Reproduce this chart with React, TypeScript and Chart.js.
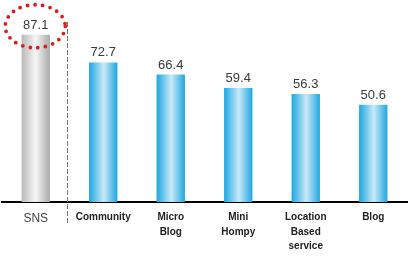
import React, { useEffect, useRef } from "react";
import { Chart, registerables } from "chart.js";

Chart.register(...registerables);

const categories: (string | string[])[] = [
  "SNS",
  "Community",
  ["Micro", "Blog"],
  ["Mini", "Hompy"],
  ["Location", "Based", "service"],
  "Blog",
];
const values: number[] = [87.1, 72.7, 66.4, 59.4, 56.3, 50.6];
const valueLabels: string[] = ["87.1", "72.7", "66.4", "59.4", "56.3", "50.6"];

const BAR_PCT = 0.42;

function barGradient(ctx: any) {
  const chart = ctx.chart;
  const xs = chart.scales && chart.scales.x;
  const i = ctx.dataIndex;
  const grey = i === 0;
  if (!xs || xs.width === undefined || isNaN(xs.getPixelForValue(i))) {
    return grey ? "#d0d0d0" : "#3db3e6";
  }
  const c = xs.getPixelForValue(i);
  const half = (xs.width / categories.length) * BAR_PCT / 2;
  const g = chart.ctx.createLinearGradient(c - half, 0, c + half, 0);
  if (grey) {
    g.addColorStop(0, "#b9b9b9");
    g.addColorStop(0.5, "#f6f6f6");
    g.addColorStop(1, "#a9a9a9");
  } else {
    g.addColorStop(0, "#1ba6e1");
    g.addColorStop(0.52, "#cbe9f8");
    g.addColorStop(1, "#1ea6e0");
  }
  return g;
}

const decorPlugin = {
  id: "decor",
  afterDatasetsDraw(chart: any) {
    const { ctx, chartArea } = chart;
    const xs = chart.scales.x;
    const meta = chart.getDatasetMeta(0);
    ctx.save();
    // value labels
    ctx.fillStyle = "#3a3a3a";
    ctx.font = "13px 'Liberation Sans', Arial, sans-serif";
    ctx.textAlign = "center";
    ctx.textBaseline = "alphabetic";
    meta.data.forEach((bar: any, i: number) => {
      ctx.fillText(valueLabels[i], bar.x, bar.y - 6);
    });
    // dashed separator between SNS and others
    const x0 = xs.getPixelForValue(0);
    const x1 = xs.getPixelForValue(1);
    const sepX = Math.round(x0 + (x1 - x0) * 0.46) + 0.5;
    ctx.strokeStyle = "#777";
    ctx.lineWidth = 1;
    ctx.setLineDash([5, 2]);
    ctx.beginPath();
    ctx.moveTo(sepX, chartArea.top + 12);
    ctx.lineTo(sepX, chartArea.bottom + 21);
    ctx.stroke();
    // red dotted ellipse around first value
    const b0 = meta.data[0];
    ctx.setLineDash([0, 7.6]);
    ctx.lineCap = "round";
    ctx.lineWidth = 3.8;
    ctx.strokeStyle = "#e01a1a";
    ctx.beginPath();
    ctx.ellipse(b0.x - 0.5, b0.y - 8.5, 30, 21.5, 0, 0, Math.PI * 2);
    ctx.stroke();
    ctx.restore();
  },
};

export default function App() {
  const ref = useRef<HTMLCanvasElement>(null);
  useEffect(() => {
    document.body.style.margin = "0";
    const chart = new Chart(ref.current!, {
      type: "bar",
      data: {
        labels: categories,
        datasets: [
          {
            data: values,
            backgroundColor: barGradient as any,
            borderWidth: 0,
            categoryPercentage: 1,
            barPercentage: BAR_PCT,
          },
        ],
      },
      options: {
        animation: false,
        responsive: false,
        maintainAspectRatio: false,
        layout: { padding: { top: 10, left: 2, right: 8, bottom: 0 } },
        plugins: { legend: { display: false }, tooltip: { enabled: false } },
        scales: {
          x: {
            grid: { display: false, drawTicks: false },
            border: { display: true, color: "#000", width: 2 },
            afterFit: (s: any) => {
              s.height = 55;
            },
            ticks: {
              padding: 8,
              maxRotation: 0,
              autoSkip: false,
              color: (c: any) => (c.index === 0 ? "#444" : "#222"),
              font: (c: any) =>
                c.index === 0
                  ? { family: "'Liberation Sans', Arial, sans-serif", size: 12, weight: "normal", lineHeight: 1.4 }
                  : { family: "'Liberation Sans', Arial, sans-serif", size: 10, weight: "bold", lineHeight: 1.45 },
            },
          },
          y: { display: false, min: 0, max: 100 },
        },
      },
      plugins: [decorPlugin],
    });
    chart.update();
    return () => chart.destroy();
  }, []);
  return <canvas ref={ref} width={415} height={257} style={{ display: "block" }} />;
}
